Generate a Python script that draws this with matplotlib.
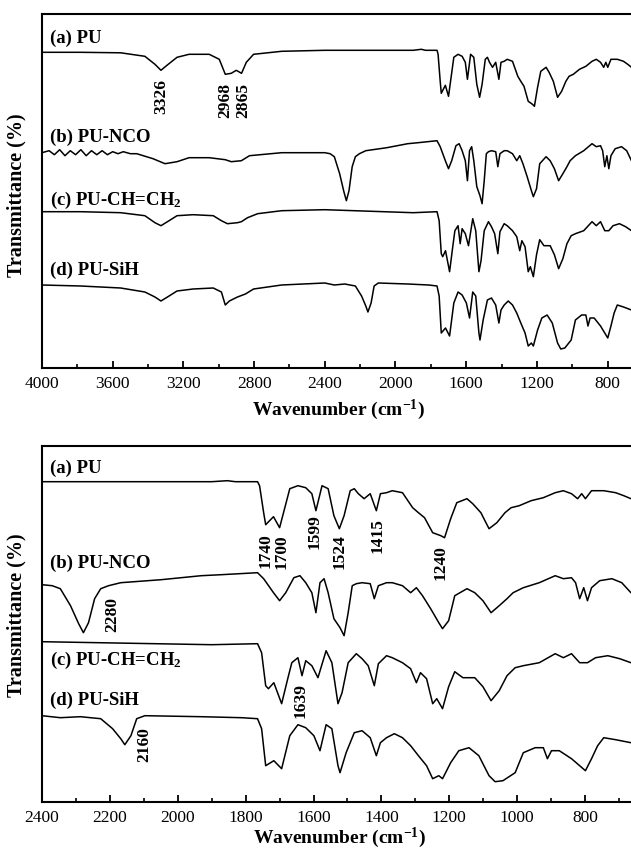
import matplotlib
matplotlib.use("Agg")
import matplotlib.pyplot as plt
from matplotlib.ticker import MultipleLocator

plt.rcParams["font.family"] = ["Liberation Serif", "DejaVu Serif"]
plt.rcParams["mathtext.fontset"] = "custom"
plt.rcParams["mathtext.rm"] = "Liberation Serif"
plt.rcParams["mathtext.bf"] = "Liberation Serif:bold"
plt.rcParams["mathtext.default"] = "bf"

# FTIR spectra: wavenumber (cm-1) and transmittance
# change relative to each trace's own baseline (arbitrary units)

# (a) PU
pu_wn = [4000, 3782, 3555, 3418, 3361, 3327, 3293, 3236, 3168, 3054, 2997, 2963,
         2929, 2901, 2871, 2844, 2803, 2644, 2400, 1900, 1854, 1830, 1765, 1759,
         1747, 1741, 1718, 1700, 1670, 1646, 1623, 1605, 1593, 1575, 1557, 1540,
         1524, 1510, 1492, 1480, 1468, 1451, 1433, 1415, 1403, 1385, 1368, 1338,
         1326, 1308, 1291, 1273, 1249, 1225, 1214, 1196, 1178, 1148, 1131, 1107,
         1083, 1060, 1036, 1018, 994, 959, 923, 888, 864, 840, 822, 810, 799, 781,
         745, 710, 686, 665, 650]
pu_t = [0, 0, -0.5, -4, -12, -18, -13, -5, -2, -2, -7, -22,
        -21, -18, -21, -10, -2, 1, 2, 2, 3, 2, 2, -2,
        -29, -41, -33, -44, -5, -2, -4, -10, -27, -2, -5, -32,
        -45, -32, -7, -5, -10, -15, -10, -27, -10, -9, -7, -9,
        -15, -24, -29, -34, -49, -52, -54, -35, -19, -15, -20, -29,
        -45, -39, -29, -24, -22, -17, -14, -9, -7, -10, -15, -10, -15, -7,
        -7, -9, -12, -15, -16]

# (b) PU-NCO
nco_wn = [4000, 3960, 3930, 3900, 3870, 3840, 3810, 3780, 3750, 3720, 3690, 3660,
          3630, 3600, 3570, 3540, 3500, 3464, 3372, 3304, 3236, 3168, 3054, 2963,
          2929, 2872, 2826, 2644, 2400, 2370, 2346, 2316, 2292, 2278, 2263, 2245,
          2227, 2204, 2168, 2049, 1931, 1872, 1765, 1747, 1718, 1700, 1682, 1658,
          1640, 1623, 1605, 1593, 1581, 1569, 1557, 1540, 1522, 1510, 1498, 1486,
          1474, 1457, 1433, 1421, 1409, 1385, 1368, 1338, 1314, 1297, 1279, 1255,
          1231, 1220, 1202, 1184, 1148, 1125, 1101, 1077, 1053, 1030, 1012, 982,
          935, 888, 864, 840, 828, 816, 804, 793, 781, 757, 721, 692, 665, 650]
nco_t = [0, 2, -2, 3, -3, 2, -2, 3, -3, 2, -2, 2,
         -2, 1, -1, 1, -1, -1, -6, -11, -9, -5, -5, -7,
         -9, -8, -3, 0, 0, -1, -4, -21, -39, -48, -38, -14,
         -4, -1, 2, 5, 9, 10, 12, 6, -8, -16, -8, 7,
         9, 2, -8, -28, 2, 6, -8, -34, -43, -51, -28, -1,
         1, 2, 1, -14, -1, 2, 2, -1, -8, -3, -11, -24,
         -38, -44, -36, -11, -4, -8, -16, -28, -21, -14, -8, -3,
         2, 9, 6, 7, 2, -14, -3, -16, -3, 4, 6, 2, -8, -10]

# (c) PU-CH=CH2
vin_wn = [4000, 3782, 3555, 3418, 3361, 3327, 3281, 3236, 3145, 3031, 2985, 2951,
          2894, 2872, 2837, 2780, 2644, 2400, 1900, 1765, 1753, 1741, 1733, 1717,
          1694, 1676, 1664, 1646, 1634, 1623, 1605, 1587, 1563, 1546, 1528, 1516,
          1498, 1474, 1457, 1439, 1421, 1409, 1385, 1368, 1338, 1314, 1297, 1285,
          1267, 1249, 1237, 1220, 1202, 1184, 1160, 1125, 1101, 1077, 1053, 1030,
          1006, 982, 935, 888, 864, 840, 816, 793, 769, 733, 698, 665, 650]
vin_t = [-2, -2, -3, -6, -13, -16, -11, -6, -5, -6, -11, -14,
         -13, -12, -8, -4, -1, 0, -3, -2, -11, -44, -47, -41,
         -62, -37, -21, -16, -34, -19, -24, -36, -9, -21, -62, -51,
         -21, -12, -17, -24, -44, -22, -14, -16, -21, -27, -41, -31,
         -37, -62, -57, -67, -45, -30, -36, -36, -45, -59, -49, -34,
         -26, -24, -21, -12, -16, -12, -21, -21, -16, -14, -17, -21, -22]

# (d) PU-SiH
sih_wn = [4000, 3782, 3555, 3418, 3361, 3327, 3281, 3236, 3145, 3031, 2985, 2963,
          2940, 2894, 2849, 2803, 2644, 2400, 2346, 2287, 2227, 2192, 2168, 2156,
          2138, 2121, 2097, 1931, 1812, 1765, 1753, 1741, 1717, 1694, 1670, 1646,
          1623, 1599, 1581, 1563, 1546, 1528, 1522, 1504, 1480, 1457, 1433, 1415,
          1403, 1385, 1362, 1338, 1314, 1291, 1267, 1249, 1231, 1220, 1196, 1172,
          1142, 1113, 1083, 1065, 1042, 1006, 982, 947, 923, 911, 899, 876, 840,
          816, 799, 781, 763, 745, 710, 665, 650]
sih_t = [-2, -3, -5, -9, -14, -18, -13, -8, -6, -5, -9, -22,
         -18, -14, -11, -6, -2, 0, -2, -1, -3, -13, -23, -29,
         -20, -3, 0, -1, -2, -3, -13, -50, -45, -53, -20, -9,
         -12, -20, -35, -9, -13, -50, -57, -37, -17, -15, -22, -40,
         -27, -22, -18, -22, -30, -40, -50, -63, -60, -63, -47, -35,
         -32, -40, -60, -66, -65, -57, -37, -32, -32, -43, -35, -35, -43,
         -50, -55, -43, -30, -22, -24, -27, -28]

labels = ["(a) PU", "(b) PU-NCO", "(c) PU-CH=CH$_2$", "(d) PU-SiH"]

# baseline heights of the stacked traces in each panel
top_offsets = [315.7, 215.3, 158.3, 85.0]
bottom_offsets = [318.3, 217.3, 160.3, 86.3]

top_peaks = [(3327, 273, "3326"), (2965, 269, "2968"), (2860, 269, "2865")]
bottom_peaks = [(1741, 252, "1740"), (1694, 251, "1700"), (1596, 271, "1599"),
                (1522, 251, "1524"), (1410, 267, "1415"), (1226, 240, "1240"),
                (2192, 188, "2280"), (1637, 102, "1639"), (2099, 58, "2160")]

W, H = 631, 853


def style_axes(ax, xmin, major, minor, labelpad):
    ax.set_xlim(xmin, 650)
    ax.xaxis.set_major_locator(MultipleLocator(major))
    ax.xaxis.set_minor_locator(MultipleLocator(minor))
    ax.set_yticks([])
    ax.tick_params(axis="x", which="major", direction="in", length=5, width=1.3,
                   labelsize=12.5, pad=5)
    ax.tick_params(axis="x", which="minor", direction="in", length=3, width=1.2)
    for side in ["left", "bottom", "top", "right"]:
        ax.spines[side].set_linewidth(1.5)
    ax.set_xlabel("Wavenumber (cm$^{-1}$)", fontsize=14, fontweight="bold",
                  labelpad=labelpad)


def draw_panel(ax, offsets, label_pos, peaks):
    spectra = [(pu_wn, pu_t), (nco_wn, nco_t), (vin_wn, vin_t), (sih_wn, sih_t)]
    for (wn, t), off in zip(spectra, offsets):
        ax.plot(wn, [v + off for v in t], color="black", lw=1.1)
    for lab, (x, y) in zip(labels, label_pos):
        ax.text(x, y, lab, fontsize=13.5, fontweight="bold", ha="left", va="center")
    for x, y, s in peaks:
        ax.text(x, y, s, fontsize=12.5, fontweight="bold", rotation=90,
                ha="center", va="center")


def main():
    fig = plt.figure(figsize=(W / 100, H / 100), dpi=100)

    # top panel: full range
    ax1 = fig.add_axes([42 / W, 1 - 369 / H, 592.1 / W, 354 / H])
    ax1.set_ylim(0, 354)
    style_axes(ax1, 4000, 400, 200, 4)
    draw_panel(ax1, top_offsets,
               [(3955, 331), (3955, 232), (3955, 169), (3955, 99)], top_peaks)

    # bottom panel: 2400-650 expanded
    ax2 = fig.add_axes([42 / W, 1 - 803 / H, 594 / W, 356 / H])
    ax2.set_ylim(0, 356)
    style_axes(ax2, 2400, 200, 100, 0)
    draw_panel(ax2, bottom_offsets,
               [(2376, 334.7), (2376, 239.7), (2376, 143), (2376, 103)], bottom_peaks)

    for yc in [195, 615]:
        fig.text(16 / W, 1 - yc / H, "Transmittance (%)", rotation=90, fontsize=14.5,
                 fontweight="bold", ha="center", va="center")

    fig.savefig("out.png", dpi=100)


if __name__ == "__main__":
    main()
